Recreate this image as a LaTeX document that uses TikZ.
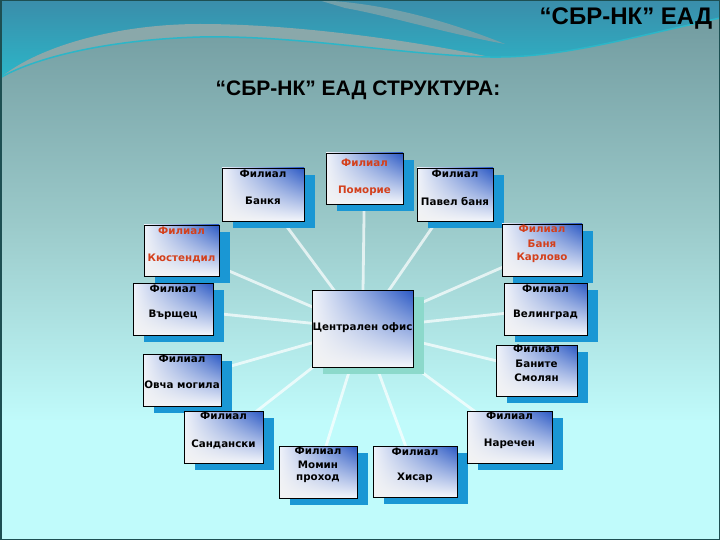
\documentclass[tikz,border=0pt]{standalone}
\usepackage{fontspec}
\setmainfont{DejaVu Sans}
\newfontfamily\titlefont{Liberation Sans}
\usetikzlibrary{shadows,shadings}
\definecolor{boxblue}{HTML}{2A58C4}
\definecolor{shadowblue}{HTML}{1A97D4}
\definecolor{shadowteal}{HTML}{8CD9CB}
\definecolor{redtext}{HTML}{D4401C}
\definecolor{bgtop}{HTML}{6F989D}
\definecolor{bgmid}{HTML}{9CCBCB}
\definecolor{bgbot}{HTML}{C0FBFB}
\definecolor{waveteal}{HTML}{3A8DAA}
\definecolor{wavecyan}{HTML}{2CB6C8}
\definecolor{wavegray}{HTML}{8AA8AA}
\definecolor{frame}{HTML}{1D4F52}
\pgfdeclarelayer{bg}
\pgfdeclarelayer{spokes}
\pgfsetlayers{bg,spokes,main}
\newcommand\brbox[6]{\node[branch,general shadow={fill=#6,shadow xshift=11pt,shadow yshift=-7pt},minimum width={#4-#2},minimum height={#5-#3}] (#1) at ({(#2+#4)/2},{(#3+#5)/2}) {};}
\begin{document}
\begin{tikzpicture}[x=1pt,y=-1pt,
  branch/.style={draw=black,line width=0.8pt,inner sep=0pt,outer sep=0pt,
    upper right=boxblue,upper left=white!93!boxblue,lower left=white!90!gray,lower right=white!95!boxblue},
  lbl/.style={inner sep=0pt,font=\fontsize{10.3}{12}\selectfont\bfseries,text=black},
  rlbl/.style={lbl,text=redtext},
  spoke/.style={draw=white,line width=2.8pt,opacity=0.7}]
\useasboundingbox (0,0) rectangle (720,540);
\begin{pgfonlayer}{bg}
\shade[top color=bgtop,bottom color=bgmid] (0,0) rectangle (720,230);
\shade[top color=bgmid,bottom color=bgbot] (0,229) rectangle (720,421);
\fill[bgbot] (0,420) rectangle (720,540);
\shade[top color=waveteal,bottom color=wavecyan] (0,0) -- (720,0) -- (720,18)
  .. controls (620,40) and (560,58) .. (490,57)
  .. controls (400,55) and (300,35) .. (200,37)
  .. controls (100,40) and (30,60) .. (0,78) -- cycle;
\fill[wavegray] (0,78) .. controls (40,45) and (120,24) .. (200,24)
  .. controls (300,24) and (420,42) .. (490,57)
  .. controls (400,55) and (300,35) .. (200,37)
  .. controls (100,40) and (30,60) .. (0,78) -- cycle;
\fill[wavegray!70!waveteal] (318,0) .. controls (380,3) and (440,18) .. (505,44)
  .. controls (440,32) and (390,16) .. (345,8) .. controls (335,5) and (325,2) .. (318,0) -- cycle;
\draw[wavecyan,line width=1.5pt] (0,78) .. controls (30,60) and (100,40) .. (200,37)
  .. controls (300,35) and (400,55) .. (490,57)
  .. controls (560,58) and (620,40) .. (720,18);
\end{pgfonlayer}

\node[font=\titlefont\bfseries\fontsize{24}{28}\selectfont] (hdr) at (626,19) {“СБР-НК” ЕАД};
\node[font=\titlefont\bfseries\fontsize{21}{25}\selectfont] (title) at (358,90) {“СБР-НК” ЕАД СТРУКТУРА:};

\brbox{c}{312}{290}{413}{367}{shadowteal}
\brbox{b1}{222}{168}{304}{221}{shadowblue}
\brbox{b2}{326}{153}{403}{204}{shadowblue}
\brbox{b3}{417}{168}{493}{221}{shadowblue}
\brbox{b4}{144}{225}{219}{276}{shadowblue}
\brbox{b5}{502}{224}{582}{276}{shadowblue}
\brbox{b6}{133}{283}{213}{335}{shadowblue}
\brbox{b7}{504}{283}{587}{335}{shadowblue}
\brbox{b8}{143}{354}{221}{406}{shadowblue}
\brbox{b9}{496}{345}{577}{396}{shadowblue}
\brbox{b10}{184}{411}{263}{463}{shadowblue}
\brbox{b11}{279}{446}{357}{498}{shadowblue}
\brbox{b12}{373}{446}{457}{497}{shadowblue}
\brbox{b13}{467}{411}{552}{463}{shadowblue}

\begin{pgfonlayer}{spokes}
\foreach \b in {b1,b2,b3,b4,b5,b6,b7,b8,b9,b10,b11,b12,b13}
  \draw[spoke] (c.center) -- (\b.center);
\end{pgfonlayer}

\node[lbl] (ct) at (362.5,328) {Централен офис};
\node[lbl] (t1a) at (263,174) {Филиал};
\node[lbl] (t1b) at (263,201) {Банкя};
\node[rlbl] (t2a) at (364.5,163) {Филиал};
\node[rlbl] (t2b) at (364.5,191) {Поморие};
\node[lbl] (t3a) at (455,174) {Филиал};
\node[lbl] (t3b) at (455,201) {Павел баня};
\node[rlbl] (t4a) at (181.5,231) {Филиал};
\node[rlbl] (t4b) at (181.5,258) {Кюстендил};
\node[rlbl] (t5a) at (542,229) {Филиал};
\node[rlbl] (t5b) at (542,244) {Баня};
\node[rlbl] (t5c) at (542,258) {Карлово};
\node[lbl] (t6a) at (173,289) {Филиал};
\node[lbl] (t6b) at (173,315) {Върщец};
\node[lbl] (t7a) at (545.5,289) {Филиал};
\node[lbl] (t7b) at (545.5,315) {Велинград};
\node[lbl] (t8a) at (182,359) {Филиал};
\node[lbl] (t8b) at (182,385) {Овча могила};
\node[lbl] (t9a) at (536.5,349) {Филиал};
\node[lbl] (t9b) at (536.5,364) {Баните};
\node[lbl] (t9c) at (536.5,378) {Смолян};
\node[lbl] (t10a) at (223.5,416) {Филиал};
\node[lbl] (t10b) at (223.5,444) {Сандански};
\node[lbl] (t11a) at (318,451) {Филиал};
\node[lbl] (t11b) at (318,465) {Момин};
\node[lbl] (t11c) at (318,479) {проход};
\node[lbl] (t12a) at (415,452) {Филиал};
\node[lbl] (t12b) at (415,478) {Хисар};
\node[lbl] (t13a) at (509.5,416) {Филиал};
\node[lbl] (t13b) at (509.5,444) {Наречен};

\draw[frame,line width=1.5pt] (0.75,0.75) rectangle (719.25,539.25);
\end{tikzpicture}
\end{document}
